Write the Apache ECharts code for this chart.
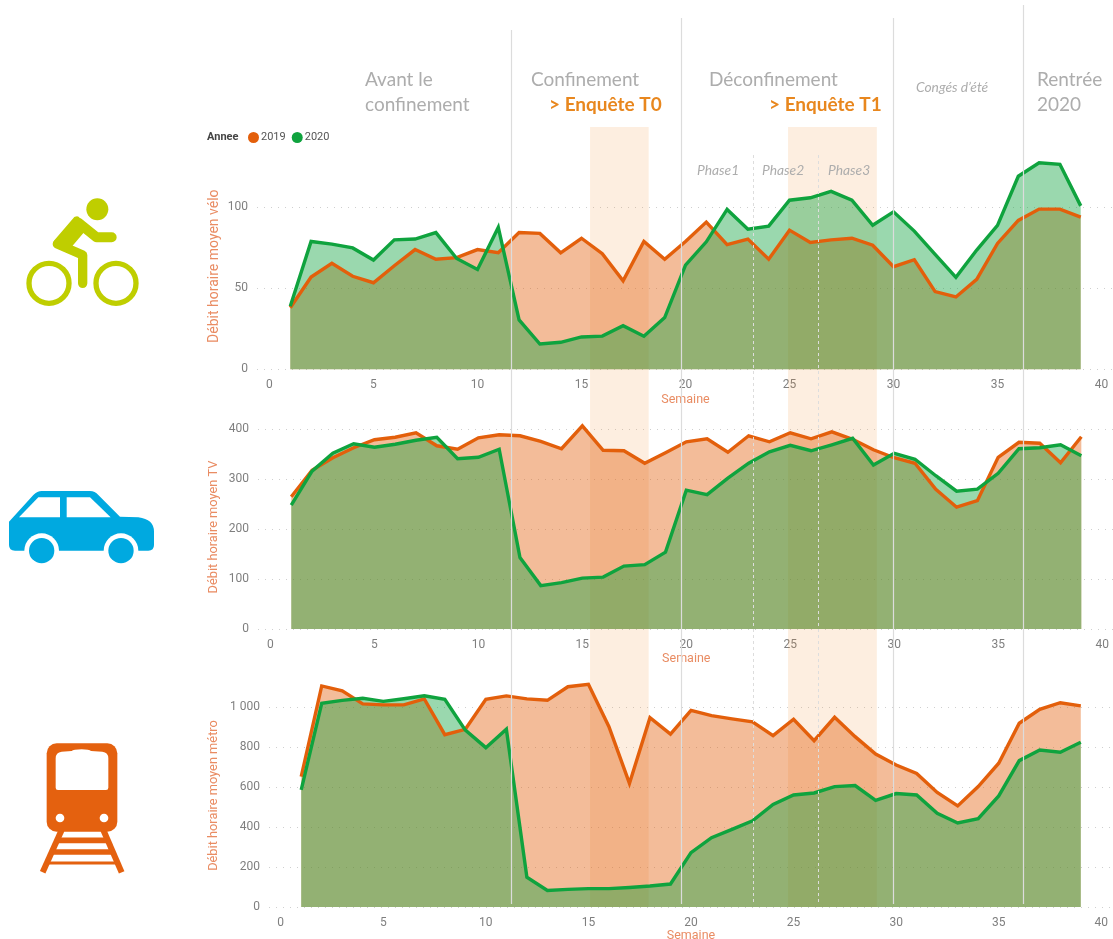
<!DOCTYPE html>
<html><head><meta charset="utf-8">
<style>html,body{margin:0;padding:0;background:#fff}#c{width:1113px;height:939px}</style>
<script src="https://cdn.jsdelivr.net/npm/echarts@6/dist/echarts.min.js"></script>
</head><body><div id="c"></div>
<script>
const weeks=[1,2,3,4,5,6,7,8,9,10,11,12,13,14,15,16,17,18,19,20,21,22,23,24,25,26,27,28,29,30,31,32,33,34,35,36,37,38,39];
const xTicks=[0,5,10,15,20,25,30,35,40];
const veloTicks=[0,50,100];
const tvTicks=[0,100,200,300,400];
const metroTicks=[0,200,400,600,800,1000];
const velo2019=[38,57,65.5,57.5,53.5,64,74,68,69,74,72,84.5,84,72,81,71.5,54.7,79,68,79,91,77,80.5,68,86,78.4,80,81,76.7,63.4,67.7,48,44.7,55.6,77.8,92,99,99,94];
const velo2020=[39,79,77.4,75,67.5,80,80.5,84.5,68.5,61.7,87.7,30.5,15.6,16.7,20,20.5,27,20.4,32,64.4,78.8,98.8,86.6,88.5,104.5,106,110,104.5,89,97.3,85.4,71,56.8,73.7,89,119.3,127.6,126.7,101];
const tv2019=[265,318,343,363,379,384,393,367,360,383,389,387,376,361,407,358,357,332,353,375,381,354,387,375,393,381,395,380,359,343,332,280,244,257,344,374,372,333,385];
const tv2020=[248,316,352,371,364,370,378,384,341,344,360,143,87,93,102,104,126,129,154,278,269,302,332,355,368,357,369,382,328.5,352,340,307,276,280,312,361,363,369,347];
const metro2019=[653,1107,1083,1017,1012,1012,1042,863,890,1040,1057,1042,1035,1103,1115,903,619,948,866,985,958,942,927,858,940,833,950,853,766,711,669,574,506,603,720,920,990,1023,1007];
const metro2020=[586,1020,1035,1045,1030,1043,1058,1040,886,798,890,149,83,88,92,92,98,105,115,272,347,389,432,514,561,571,603,608,534,568,561,469,421,442,556,733,786,775,825];
const yearNames=['2019','2020'];
const surveyBands=[[15.41,18.23],[24.93,29.2]];
const periodWeeks=[11.63,19.8,29.98,36.23];
const phaseWeeks=[23.28,26.37];

const C19='#E35F0B',C20='#0FA33E',LAB='#7f7f7f',AXN='#E98C63',GR='#adadad';
const FONT='Roboto';
const panels=[
 {title:'Débit horaire moyen vélo',a:velo2019,b:velo2020,ticks:veloTicks,left:257,right:-1,top:163,height:206.3,min:-0.6,max:40.6,ymax:127.5,gap:24,nameGap:36,titleSize:14},
 {title:'Débit horaire moyen TV',a:tv2019,b:tv2020,ticks:tvTicks,left:258,right:-1.6,top:425,height:204,min:-0.6,max:40.6,ymax:408.6,gap:23,nameGap:38,titleSize:12.8},
 {title:'Débit horaire moyen métro',a:metro2019,b:metro2020,ticks:metroTicks,left:269,right:0,top:684,height:223,min:-0.57,max:40.57,ymax:1116.7,gap:22,nameGap:49,titleSize:12.8}
];
const grid=[],xAxis=[],yAxis=[],series=[];
const zip=v=>weeks.map((w,i)=>[w,v[i]]);
panels.forEach((p,i)=>{
 grid.push({left:p.left,right:p.right,top:p.top,height:p.height,containLabel:false,outerBoundsMode:'none'});
 xAxis.push({type:'value',gridIndex:i,min:p.min,max:p.max,name:'Semaine',nameLocation:'middle',nameGap:p.gap,nameMoveOverlap:false,
  nameTextStyle:{color:AXN,fontFamily:FONT,fontSize:12.5},
  axisLine:{show:false},axisTick:{show:false,customValues:xTicks},splitLine:{show:false},
  axisLabel:{customValues:xTicks,color:LAB,fontFamily:FONT,fontSize:12,margin:10}});
 yAxis.push({type:'value',gridIndex:i,min:0,max:p.ymax,name:p.title,nameLocation:'middle',nameGap:p.nameGap,nameRotate:90,nameMoveOverlap:false,
  nameTextStyle:{color:AXN,fontFamily:FONT,fontSize:p.titleSize},
  axisLine:{show:false},axisTick:{show:false,customValues:p.ticks},
  splitLine:{show:true,lineStyle:{color:'#cfcfcf',type:[1,6],width:1}},
  axisLabel:{customValues:p.ticks,color:LAB,fontFamily:FONT,fontSize:12,margin:9,
   formatter:v=>v>=1000?String(v).replace(/(\d)(\d{3})$/,'$1 $2'):String(v)}});
 [[p.a,C19,yearNames[0]],[p.b,C20,yearNames[1]]].forEach(([v,c,n])=>{
  series.push({type:'line',name:n,xAxisIndex:i,yAxisIndex:i,data:zip(v),showSymbol:false,symbol:'none',clip:false,silent:true,z:2,
   itemStyle:{color:c},lineStyle:{width:0},areaStyle:{color:c,opacity:0.42}});
 });
 [[p.a,C19,yearNames[0]],[p.b,C20,yearNames[1]]].forEach(([v,c,n])=>{
  series.push({type:'line',name:n,xAxisIndex:i,yAxisIndex:i,data:zip(v),showSymbol:false,symbol:'none',clip:false,silent:true,z:3,
   itemStyle:{color:c},lineStyle:{width:3.4,color:c,join:'miter'}});
 });
});
// overlay spanning the page: x in weeks, y in page pixels
grid.push({left:269.5,width:832,top:0,height:939,outerBoundsMode:'none'});
xAxis.push({type:'value',gridIndex:3,min:0,max:40,show:false,splitLine:{show:false}});
yAxis.push({type:'value',gridIndex:3,min:0,max:939,inverse:true,show:false,splitLine:{show:false}});
const vline=(w,top,bot)=>[{coord:[w,top]},{coord:[w,bot]}];
series.push({type:'line',xAxisIndex:3,yAxisIndex:3,data:[],silent:true,z:4,
 markArea:{silent:true,itemStyle:{color:'rgba(242,142,48,0.15)'},label:{show:false},
  data:surveyBands.map(b=>[{xAxis:b[0],yAxis:127},{xAxis:b[1],yAxis:907}])}});
series.push({type:'line',xAxisIndex:3,yAxisIndex:3,data:[],silent:true,z:5,
 markLine:{silent:true,symbol:'none',label:{show:false},animation:false,
  lineStyle:{color:'#dcdcdc',type:'solid',width:1.2},
  data:[vline(periodWeeks[0],30,904),vline(periodWeeks[1],18,904),vline(periodWeeks[2],18,904),vline(periodWeeks[3],5,904)]}});
series.push({type:'line',xAxisIndex:3,yAxisIndex:3,data:[],silent:true,z:5,
 markLine:{silent:true,symbol:'none',label:{show:false},animation:false,
  lineStyle:{color:'#dddddd',type:[3,3],width:1},
  data:phaseWeeks.map(w=>vline(w,155,904))}});

const txt=(text,x,y,o)=>({type:'text',x,y,silent:true,z:20,style:Object.assign({text,fill:GR,font:'400 19px Lato',textVerticalAlign:'middle',textBaseline:'middle'},o||{})});
const ORG='#E8871E',ITAL='italic 13.8px Lato',EQ='bold 19px Lato';
const texts=[
 txt('Avant le',365,80),txt('confinement',365,105),txt('Confinement',531,80),
 txt('> Enquête T0',549,105,{fill:ORG,font:EQ}),
 txt('Déconfinement',709,80),
 txt('> Enquête T1',769,105,{fill:ORG,font:EQ}),
 txt('Congés d’été',916,88,{font:ITAL}),
 txt('Rentrée',1037,80),txt('2020',1037,105),
 txt('Phase1',697,171,{font:ITAL}),txt('Phase2',762,171,{font:ITAL}),txt('Phase3',828,171,{font:ITAL}),
 txt('Annee',207,137,{fill:'#444',font:'bold 11px Roboto'})
];
const BIKE='#BFCE00',CAR='#00A9E0',TRN='#E4610F';
echarts.graphic.registerShape('carBody',echarts.graphic.extendPath('M27 125 L100 45 Q112 33 125 33 L270 33 Q285 33 295 45 L360 110 L415 112 Q462 118 462 155 L462 195 Q462 212 445 212 L45 212 Q27 212 27 195 Z',{}));
echarts.graphic.registerShape('trainWin',echarts.graphic.extendPath('M107 70 Q107 52 125 50 L155 48 Q160 43 185 43 Q208 43 213 48 L247 50 Q265 52 265 70 L265 158 Q265 165 258 165 L114 165 Q107 165 107 158 Z',{}));
const line=(pts,c,w,cap)=>({type:'polyline',shape:{points:pts},style:{stroke:c,lineWidth:w,fill:null,lineCap:cap||'round',lineJoin:'round'}});
const icons=[
 {type:'group',x:0,y:180,scaleX:1/3,scaleY:1/3,silent:true,children:[
  {type:'circle',shape:{cx:292,cy:88,r:33},style:{fill:BIKE}},
  {type:'circle',shape:{cx:147,cy:310,r:60},style:{fill:null,stroke:BIKE,lineWidth:16}},
  {type:'circle',shape:{cx:348,cy:310,r:60},style:{fill:null,stroke:BIKE,lineWidth:16}},
  {type:'polygon',shape:{points:[[230,120],[172,187],[205,195],[245,148]]},style:{fill:BIKE,stroke:BIKE,lineWidth:22,lineJoin:'round'}},
  line([[235,128],[290,172],[335,172]],BIKE,30),
  line([[172,192],[248,225],[248,310]],BIKE,28)
 ]},
 {type:'group',x:0,y:480,scaleX:1/3,scaleY:1/3,silent:true,children:[
  {type:'carBody',style:{fill:CAR}},
  {type:'circle',shape:{cx:125,cy:212,r:52},style:{fill:'#fff'}},
  {type:'circle',shape:{cx:363,cy:212,r:52},style:{fill:'#fff'}},
  {type:'circle',shape:{cx:125,cy:212,r:38},style:{fill:CAR}},
  {type:'circle',shape:{cx:363,cy:212,r:38},style:{fill:CAR}},
  {type:'polygon',shape:{points:[[57,112],[115,52],[180,52],[180,112]]},style:{fill:'#fff'}},
  {type:'polygon',shape:{points:[[200,52],[270,52],[332,112],[200,112]]},style:{fill:'#fff'}}
 ]},
 {type:'group',x:20,y:735,scaleX:1/3,scaleY:1/3,silent:true,children:[
  line([[125,285],[68,412]],TRN,18,'butt'),line([[250,285],[305,412]],TRN,18,'butt'),
  {type:'polyline',shape:{points:[[115,316],[260,316]]},style:{stroke:TRN,lineWidth:17,fill:null}},
  {type:'polyline',shape:{points:[[100,351],[275,351]]},style:{stroke:TRN,lineWidth:17,fill:null}},
  {type:'polyline',shape:{points:[[85,384],[290,384]]},style:{stroke:TRN,lineWidth:9,fill:null}},
  {type:'rect',shape:{x:80,y:25,width:212,height:265,r:30},style:{fill:TRN}},
  {type:'trainWin',style:{fill:'#fff'}},
  {type:'circle',shape:{cx:120,cy:249,r:13},style:{fill:'#fff'}},
  {type:'circle',shape:{cx:252,cy:249,r:13},style:{fill:'#fff'}}
 ]}
];
const chart=echarts.init(document.getElementById('c'),null,{renderer:'canvas'});
chart.setOption({animation:false,backgroundColor:'#fff',
 legend:{left:243,top:127,icon:'circle',itemWidth:11,itemHeight:11,itemGap:6,selectedMode:false,data:yearNames,
  textStyle:{color:'#555',fontFamily:FONT,fontSize:11,padding:[0,0,0,-3]}},
 grid,xAxis,yAxis,series,graphic:texts.concat(icons)});
</script></body></html>
